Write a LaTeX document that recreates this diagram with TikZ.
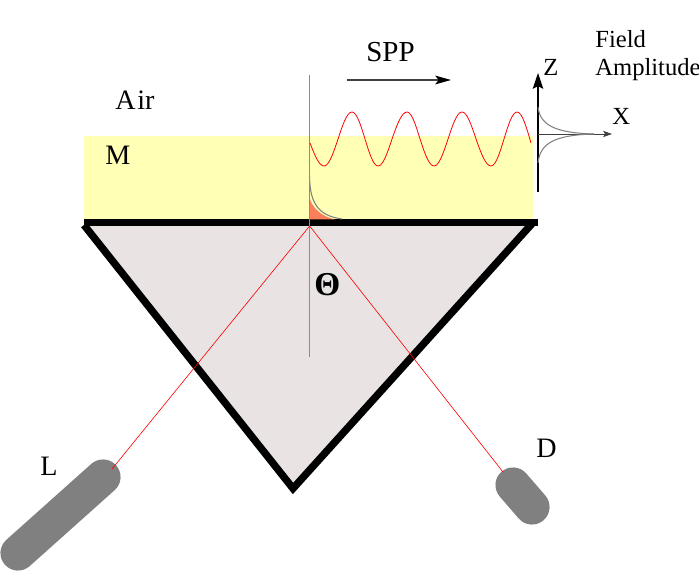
\documentclass[tikz,border=0pt]{standalone}
\usepackage{fontspec}
\setmainfont{Liberation Serif}
\usetikzlibrary{arrows.meta}
\tikzset{>=Stealth}
\definecolor{filmcol}{HTML}{FFFFB5}
\definecolor{prismcol}{HTML}{E9E3E3}
\definecolor{fieldcol}{HTML}{FA7F5A}
\tikzset{label/.style = {anchor=base west,inner sep=0pt,font=\fontsize{16}{18}\selectfont}}
\tikzset{smalllabel/.style = {anchor=base west,inner sep=0pt,font=\fontsize{14}{17}\selectfont}}
\tikzset{ray/.style = {red,line width=0.35pt}}
\tikzset{capsule/.style = {gray,line width=20pt,line cap=round}}
\tikzset{decay/.style = {gray,line width=0.6pt}}
\begin{document}
\begin{tikzpicture}[x=0.02cm,y=-0.02cm]
    \useasboundingbox (0,0) rectangle (699,573);

    \coordinate (Hit) at (309.6,226);
    \coordinate (Ltop) at (103,477);
    \coordinate (Lend) at (18,553);
    \coordinate (Dtop) at (513,485);
    \coordinate (Dend) at (532,507);
    \coordinate (Lray) at (112,469);
    \coordinate (Dray) at (503,472);

    \fill[filmcol] (84,136) rectangle (533,219);
    \fill[prismcol] (84,225) -- (293,488.5) -- (533,222.6) -- cycle;
    \draw[line width=4.2pt,miter limit=10] (84,225) -- (293,488.5) -- (533,222.6);
    \draw[line width=3.8pt] (84,222.6) -- (538,222.6);

    % field in the film
    \fill[fieldcol] (309.6,198) .. controls (312,207) and (320,216) .. (335,219.5) -- (309.6,219.5) -- cycle;
    \draw[decay] (309.6,176) .. controls (309.6,205) and (320,216) .. (342,219);

    \draw[black!45,line width=0.5pt] (309.6,75) -- (309.6,357);
    \draw[capsule] (Ltop) -- (Lend);
    \draw[capsule] (Dtop) -- (Dend);
    \draw[ray] (Hit) -- (Lray);
    \draw[ray] (Hit) -- (Dray);

    \draw[red,line width=0.45pt] (310,143) sin (324,166) cos (338,139) sin (352,112) cos (365,139) sin (378,166) cos (392,139) sin (407,112) cos (420,139) sin (434,166) cos (448,139) sin (462,112) cos (476,139) sin (491,166) cos (504,139) sin (517,112) cos (531,143);

    % axes
    \coordinate (Origin) at (538,134);
    \coordinate (Zbot) at (538,192);
    \coordinate (Ztip) at (538,73);
    \coordinate (Xtip) at (612,134);
    \draw[->,line width=0.8pt,>={Stealth[length=9pt,width=6pt,inset=1.5pt]}] (Zbot) -- (Ztip);
    \draw[->,black!75,line width=0.5pt,>={Stealth[length=5pt,width=3.5pt,inset=1pt]}] (Origin) -- (Xtip);
    \draw[decay] (538,107) .. controls (540,125) and (555,133) .. (594,134);
    \draw[decay] (538,163) .. controls (540,143) and (555,135) .. (594,134);

    \coordinate (Sppstart) at (347,80);
    \coordinate (Sppend) at (451,80);
    \draw[->,black!75,line width=0.7pt,>={Stealth[black,length=9pt,width=5pt,inset=2pt]}] (Sppstart) -- (Sppend);

    \node[label] (Air) at (115,110) {A\kern1pt ir};
    \node[label] (M) at (105,165) {M};
    \node[label] (L) at (40,476) {L};
    \node[label] (D) at (536,458) {D};
    \node[anchor=base west,inner sep=0pt,font=\fontsize{16.5}{20}\selectfont] (SPP) at (366,62) {SPP};
    \node[smalllabel] (Z) at (543,75.5) {Z};
    \node[smalllabel] (X) at (612,125) {X};
    \node[smalllabel] (Field) at (595,47.5) {Field};
    \node[smalllabel] (Amp) at (595,76) {Amplitude};
    \node[anchor=base west,inner sep=0pt,font=\fontsize{19}{22}\selectfont\bfseries] (Theta) at (314,296) {Θ};
\end{tikzpicture}
\end{document}
